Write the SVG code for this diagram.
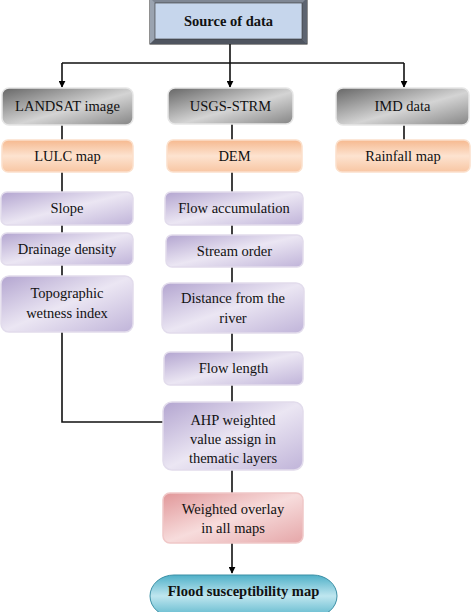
<svg xmlns="http://www.w3.org/2000/svg" width="474" height="612" viewBox="0 0 474 612">
<defs>
<linearGradient id="gGray" x1="0" y1="0" x2="1" y2="1">
<stop offset="0" stop-color="#666"/><stop offset="0.55" stop-color="#d4d4d4"/><stop offset="1" stop-color="#858585"/>
</linearGradient>
<linearGradient id="gOrange" x1="0" y1="0" x2="0" y2="1">
<stop offset="0" stop-color="#f6b98f"/><stop offset="0.5" stop-color="#fde3d0"/><stop offset="1" stop-color="#f8c6a3"/>
</linearGradient>
<linearGradient id="gPurple" x1="0" y1="0" x2="1" y2="1">
<stop offset="0" stop-color="#b3a5d0"/><stop offset="0.5" stop-color="#ebe6f3"/><stop offset="1" stop-color="#c0b4d9"/>
</linearGradient>
<linearGradient id="gRed" x1="0" y1="0" x2="1" y2="1">
<stop offset="0" stop-color="#e19799"/><stop offset="0.5" stop-color="#f7dcdc"/><stop offset="1" stop-color="#e5a6a8"/>
</linearGradient>
<linearGradient id="gTeal" x1="0" y1="0" x2="0" y2="1">
<stop offset="0" stop-color="#4fb0c8"/><stop offset="0.5" stop-color="#bfe6ef"/><stop offset="1" stop-color="#5eb8cd"/>
</linearGradient>
<marker id="arr" viewBox="0 0 10 10" refX="9" refY="5" markerWidth="7" markerHeight="7" orient="auto" markerUnits="userSpaceOnUse">
<path d="M0,0 L10,5 L0,10 z" fill="#000"/>
</marker>
<style>
.t{font-family:"Liberation Serif","Times New Roman",serif;font-size:14.5px;fill:#111;text-anchor:middle}
.b{font-weight:bold}
.gray{fill:url(#gGray);stroke:#e6e6e6;stroke-width:1.5}
.or{fill:url(#gOrange);stroke:#fbe0cc;stroke-width:1.5}
.pu{fill:url(#gPurple);stroke:#e2dcec;stroke-width:1.5}
.re{fill:url(#gRed);stroke:#f0c8c8;stroke-width:1.5}
.ln{stroke:#111;stroke-width:1.6;fill:none}
</style>
</defs>
<g id="connectors">
<path class="ln" d="M230,44 V63 M62,63 H404"/>
<path class="ln" d="M62,63 V87" marker-end="url(#arr)"/>
<path class="ln" d="M230,63 V87" marker-end="url(#arr)"/>
<path class="ln" d="M404,63 V87" marker-end="url(#arr)"/>
<path class="ln" d="M62,125 V140 M62,172 V192 M62,225 V233 M62,265 V276 M62,332 V422 H163"/>
<path class="ln" d="M232,124 V140 M232,172 V192 M232,225 V235 M232,267 V283 M232,333 V352 M232,385 V402 M232,470 V493"/>
<path class="ln" d="M404,125 V140"/>
<path class="ln" d="M232,543 V573" marker-end="url(#arr)"/>
</g>
<g id="source">
<rect x="150" y="-2" width="157" height="46" fill="#7f8794" stroke="#222" stroke-width="1"/>
<polygon points="150,-2 155,3 155,39 150,44" fill="#9aa3b0"/>
<polygon points="307,-2 302,3 302,39 307,44" fill="#5d6470"/>
<polygon points="150,44 155,39 302,39 307,44" fill="#4f5560"/>
<rect x="155" y="3" width="147" height="36" fill="#c6d6ec" stroke="#333" stroke-width="0.6"/>
<text class="t b" x="228.5" y="25.5" font-size="13.5">Source of data</text>
</g>
<g id="landsat"><rect class="gray" x="2" y="88" width="131" height="37" rx="7"/><text class="t" x="67.5" y="111">LANDSAT image</text></g>
<g id="usgs"><rect class="gray" x="168" y="88" width="125" height="36" rx="7"/><text class="t" x="230.5" y="111">USGS-STRM</text></g>
<g id="imd"><rect class="gray" x="336" y="88" width="133" height="37" rx="7"/><text class="t" x="402.5" y="111">IMD data</text></g>
<g id="lulc"><rect class="or" x="2" y="140" width="131" height="32" rx="6"/><text class="t" x="67.5" y="161">LULC map</text></g>
<g id="dem"><rect class="or" x="167" y="140" width="135" height="32" rx="6"/><text class="t" x="234.5" y="161">DEM</text></g>
<g id="rainfall"><rect class="or" x="336" y="140" width="134" height="32" rx="6"/><text class="t" x="403" y="161">Rainfall map</text></g>
<g id="slope"><rect class="pu" x="1" y="192" width="132" height="33" rx="6"/><text class="t" x="67" y="213">Slope</text></g>
<g id="drainage"><rect class="pu" x="1" y="233" width="132" height="32" rx="6"/><text class="t" x="67" y="254">Drainage density</text></g>
<g id="twi"><rect class="pu" x="1" y="276" width="132" height="56" rx="8"/><text class="t" x="67" y="298">Topographic</text><text class="t" x="67" y="318">wetness index</text></g>
<g id="flowacc"><rect class="pu" x="165" y="192" width="138" height="33" rx="6"/><text class="t" x="234" y="213">Flow accumulation</text></g>
<g id="stream"><rect class="pu" x="166" y="235" width="137" height="32" rx="6"/><text class="t" x="234.5" y="256">Stream order</text></g>
<g id="distance"><rect class="pu" x="162" y="283" width="142" height="50" rx="8"/><text class="t" x="233" y="303">Distance from the</text><text class="t" x="233" y="323">river</text></g>
<g id="flowlen"><rect class="pu" x="164" y="352" width="139" height="33" rx="6"/><text class="t" x="233.5" y="373">Flow length</text></g>
<g id="ahp"><rect class="pu" x="163" y="402" width="140" height="68" rx="9"/><text class="t" x="233" y="425">AHP weighted</text><text class="t" x="233" y="444">value assign in</text><text class="t" x="233" y="463">thematic layers</text></g>
<g id="overlay"><rect class="re" x="163" y="493" width="140" height="50" rx="7"/><text class="t" x="233" y="514">Weighted overlay</text><text class="t" x="233" y="533">in all maps</text></g>
<g id="flood"><rect x="150" y="575" width="187" height="42" rx="24" ry="21" fill="url(#gTeal)" stroke="#3a8fa5" stroke-width="1"/><text class="t b" x="243.5" y="595.5" font-size="13">Flood susceptibility map</text></g>
</svg>
